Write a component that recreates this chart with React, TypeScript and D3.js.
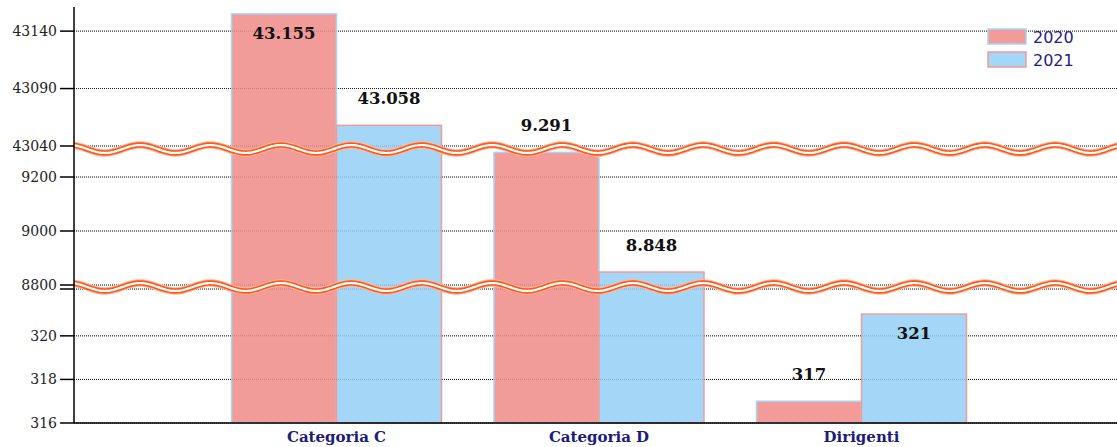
import React, { useEffect, useRef } from 'react';
import * as d3 from 'd3';

const categories = ['Categoria C', 'Categoria D', 'Dirigenti'];
const seriesNames = ['2020', '2021'];
const values2020 = [43155, 9291, 317];
const values2021 = [43058, 8848, 321];
// label drawn inside the bar top instead of above it
const inside2020 = [true, false, false];
const inside2021 = [false, false, true];

// broken y axis: three segments, bottom to top
const segDomains: [number, number][] = [[316, 322.15], [8800, 9300], [43040, 43161]];
const segTicks = [[316, 318, 320], [8800, 9000, 9200], [43040, 43090, 43140]];

const W = 1117;
const H = 447;

const itFormat = d3.formatLocale({ decimal: ',', thousands: '.', grouping: [3], currency: ['€', ''] }).format(',d');

const App: React.FC = () => {
  const ref = useRef<SVGSVGElement | null>(null);

  useEffect(() => {
    if (!ref.current) return;
    const svg = d3.select(ref.current);
    svg.selectAll('*').remove();

    const left = 74;
    const bottom = 423;
    const segRanges: [number, number][] = [[bottom, 289], [285, 150], [146, 7]];
    const scales = segDomains.map((d, i) => d3.scaleLinear().domain(d).range(segRanges[i]));
    const y = (v: number) => {
      const i = segDomains.findIndex(d => v >= d[0] && v <= d[1]);
      return scales[i](v);
    };

    const x = d3.scalePoint<string>().domain(categories).range([left, 1124]).padding(1);
    const barW = x.step() * 0.4;

    const fills = ['#f29c9a', '#a3d6f7'];
    const strokes = ['#a3d6f7', '#f29c9a'];

    const gridYs: number[] = [];
    segTicks.forEach((t, i) => t.forEach(v => gridYs.push(scales[i](v))));
    gridYs.push(segRanges[0][1]);

    const drawGrid = (g: d3.Selection<SVGGElement, unknown, null, undefined>, op: number) => {
      g.selectAll('line').data(gridYs).enter().append('line')
        .attr('x1', left).attr('x2', W)
        .attr('y1', d => d).attr('y2', d => d)
        .attr('stroke', '#000').attr('stroke-width', 1)
        .attr('stroke-dasharray', '1,1').attr('opacity', op);
    };

    drawGrid(svg.append('g'), 0.9);

    const series = [values2020, values2021];
    const insides = [inside2020, inside2021];
    const bars = svg.append('g');
    series.forEach((vals, s) => {
      bars.selectAll(`.b${s}`).data(vals).enter().append('rect')
        .attr('x', (d, i) => (x(categories[i]) || 0) - barW + s * barW)
        .attr('y', d => y(d))
        .attr('width', barW)
        .attr('height', d => bottom - y(d))
        .attr('fill', fills[s])
        .attr('stroke', strokes[s])
        .attr('stroke-width', 1.5);
    });

    drawGrid(svg.append('g'), 0.18);

    // break markers
    const breakYs = [(segRanges[0][1] + segRanges[1][0]) / 2, (segRanges[1][1] + segRanges[2][0]) / 2 + 1];
    const wave = (cy: number) => d3.line<number>()
      .x(d => d)
      .y(d => cy - 4 * Math.cos((2 * Math.PI * (d - 140)) / 70.4))
      .curve(d3.curveBasis)(d3.range(left, W + 2, 2));
    breakYs.forEach(cy => {
      svg.append('path').attr('d', wave(cy)).attr('fill', 'none')
        .attr('stroke', '#ffb89a').attr('stroke-width', 7.5);
      svg.append('path').attr('d', wave(cy)).attr('fill', 'none')
        .attr('stroke', '#ff5a1e').attr('stroke-width', 5.5);
      svg.append('path').attr('d', wave(cy)).attr('fill', 'none')
        .attr('stroke', '#fff').attr('stroke-width', 2.2);
    });

    // value labels
    series.forEach((vals, s) => {
      svg.append('g').selectAll('text').data(vals).enter().append('text')
        .attr('x', (d, i) => (x(categories[i]) || 0) - barW / 2 + s * barW)
        .attr('y', (d, i) => y(d) + (insides[s][i] ? 25 : -21))
        .attr('text-anchor', 'middle')
        .attr('font-family', 'DejaVu Serif')
        .attr('font-weight', 'bold')
        .attr('font-size', 16.5)
        .attr('fill', '#111')
        .text(d => itFormat(d));
    });

    // axes
    svg.append('line').attr('x1', left).attr('x2', left).attr('y1', 7).attr('y2', bottom)
      .attr('stroke', '#000').attr('stroke-width', 1.5);
    svg.append('line').attr('x1', left).attr('x2', W).attr('y1', bottom).attr('y2', bottom)
      .attr('stroke', '#000').attr('stroke-width', 1.5);

    const yAxis = svg.append('g');
    segTicks.forEach((t, i) => {
      t.forEach(v => {
        const ty = scales[i](v);
        yAxis.append('line').attr('x1', 60).attr('x2', left).attr('y1', ty).attr('y2', ty)
          .attr('stroke', '#000').attr('stroke-width', 1.5);
        yAxis.append('text').attr('x', 57).attr('y', ty).attr('dy', '0.35em')
          .attr('text-anchor', 'end').attr('font-family', 'DejaVu Serif')
          .attr('font-size', 14).attr('fill', '#222').text(v);
      });
    });
    yAxis.append('line').attr('x1', 60).attr('x2', left)
      .attr('y1', segRanges[0][1]).attr('y2', segRanges[0][1])
      .attr('stroke', '#000').attr('stroke-width', 1.5);

    svg.append('g').selectAll('text').data(categories).enter().append('text')
      .attr('x', d => x(d) || 0)
      .attr('y', 442)
      .attr('text-anchor', 'middle')
      .attr('font-family', 'DejaVu Serif')
      .attr('font-weight', 'bold')
      .attr('font-size', 15)
      .attr('fill', '#1c1c7a')
      .text(d => d);

    // legend
    const legend = svg.append('g').attr('transform', 'translate(988,29)');
    seriesNames.forEach((name, s) => {
      legend.append('rect').attr('x', 0).attr('y', s * 23).attr('width', 38).attr('height', 15)
        .attr('fill', fills[s]).attr('stroke', strokes[s]).attr('stroke-width', 1.5);
      legend.append('text').attr('x', 45).attr('y', s * 23 + 14)
        .attr('font-family', 'DejaVu Sans').attr('font-size', 16)
        .attr('fill', '#22228a').text(name);
    });
  }, []);

  return <svg ref={ref} width={W} height={H} style={{ position: 'absolute', left: 0, top: 0, background: '#fff' }} />;
};

export default App;
